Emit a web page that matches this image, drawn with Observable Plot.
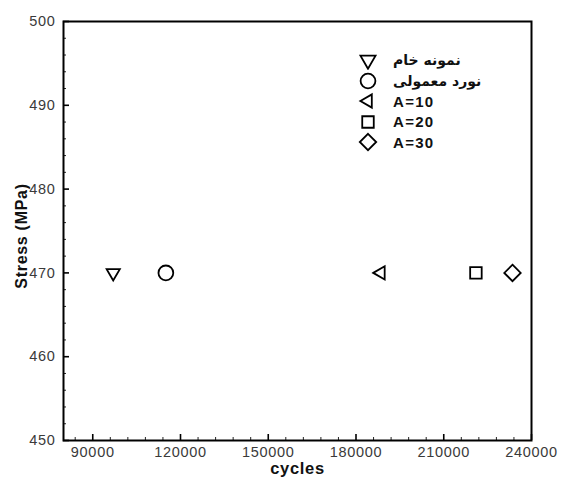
<!DOCTYPE html>
<html>
<head>
<meta charset="utf-8">
<script src="https://cdn.jsdelivr.net/npm/d3@7"></script>
<script src="https://cdn.jsdelivr.net/npm/@observablehq/plot@0.6"></script>
<style>
  html, body { margin: 0; padding: 0; background: #fff; }
  #wrap { position: relative; width: 561px; height: 479px; font-family: "Liberation Sans", Arial, "DejaVu Sans", sans-serif; }
  #legend { position: absolute; left: 356px; top: 50px; font-weight: bold; font-size: 15px; color: #111; }
  #legend .row { display: flex; align-items: center; height: 20.5px; }
  #legend svg { width: 24px; height: 20px; margin-right: 13px; flex: none; }
  #legend span { unicode-bidi: isolate; white-space: nowrap; }
  #legend span.latin { letter-spacing: 1.3px; }
  #legend span.fa { font-size: 14px; font-family: "DejaVu Sans", sans-serif; }
</style>
</head>
<body>
<div id="wrap"></div>
<script>
// ---- data ----
const series = ["نمونه خام", "نورد معمولی", "A=10", "A=20", "A=30"];
const cycles = [97000, 115000, 188500, 221000, 233500];
const stress = [470, 470, 470, 470, 470];
const symbols = ["triangle", "circle", "triangle", "square", "diamond2"];
const rotations = [180, 0, -90, 0, 0];
const radii = [4.9, 7.4, 4.9, 6.5, 7.4];
const xMajorTicks = [90000, 120000, 150000, 180000, 210000, 240000];
const xMinorTicks = d3.range(84000, 240001, 6000).filter(v => !xMajorTicks.includes(v));
const yMajorTicks = [450, 460, 470, 480, 490, 500];
const yMinorTicks = d3.range(450, 500.1, 2).filter(v => !yMajorTicks.includes(v));
const xLabel = "cycles";
const yLabel = "Stress (MPa)";

const data = series.map((s, i) => ({
  series: s, x: cycles[i], y: stress[i], symbol: symbols[i], rotate: rotations[i], r: radii[i]
}));

const blank = () => "";
const chart = Plot.plot({
  width: 561,
  height: 479,
  marginLeft: 63,
  marginRight: 30,
  marginTop: 21,
  marginBottom: 39,
  style: { fontFamily: '"Liberation Sans", Arial, sans-serif', background: "white", letterSpacing: "0.7px" },
  x: { domain: [80000, 240000] },
  y: { domain: [450, 500] },
  r: { type: "identity" },
  symbol: { type: "identity" },
  marks: [
    // minor ticks (inward)
    Plot.axisX({ ticks: xMinorTicks, tickSize: 3, dy: -3, tickFormat: blank, label: null, stroke: "#222", strokeWidth: 1 }),
    Plot.axisY({ ticks: yMinorTicks, tickSize: 3, dx: 3, tickFormat: blank, label: null, stroke: "#222", strokeWidth: 1 }),
    // major ticks (inward)
    Plot.axisX({ ticks: xMajorTicks, tickSize: 6, dy: -6, tickFormat: blank, label: null, stroke: "#000", strokeWidth: 1.6 }),
    Plot.axisY({ ticks: yMajorTicks, tickSize: 6, dx: 6, tickFormat: blank, label: null, stroke: "#000", strokeWidth: 1.6 }),
    // tick labels
    Plot.axisX({ ticks: xMajorTicks, tickSize: 0, tickPadding: 6, tickFormat: d => String(d), label: null, fontSize: 14.5, fill: "#3a3a3a" }),
    Plot.axisY({ ticks: yMajorTicks, tickSize: 0, tickPadding: 8, tickFormat: d => String(d), label: null, fontSize: 14.5, fill: "#3a3a3a" }),
    // axis titles
    Plot.text([xLabel], { frameAnchor: "bottom", dy: 28, lineAnchor: "middle", textAnchor: "middle", text: d => d, fontSize: 16.5, fontWeight: "bold", fill: "#111" }),
    Plot.text([yLabel], { frameAnchor: "left", dx: -42, dy: 5, rotate: -90, lineAnchor: "middle", textAnchor: "middle", text: d => d, fontSize: 16, fontWeight: "bold", fill: "#111" }),
    // frame
    Plot.frame({ stroke: "#000", strokeWidth: 2 }),
    // data points
    Plot.dot(data, { x: "x", y: "y", symbol: "symbol", rotate: "rotate", r: "r", stroke: "#000", strokeWidth: 1.8, fill: "white" })
  ]
});

const wrap = document.getElementById("wrap");
wrap.appendChild(chart);

// legend inside the plot frame
const legend = document.createElement("div");
legend.id = "legend";
const symbolMap = { triangle: d3.symbolTriangle, circle: d3.symbolCircle, square: d3.symbolSquare, diamond2: d3.symbolDiamond2 };
series.forEach((s, i) => {
  const row = document.createElement("div");
  row.className = "row";
  const svg = d3.create("svg").attr("viewBox", "-12 -10 24 20");
  const r = i === 0 ? 5.6 : radii[i];
  svg.append("path")
    .attr("d", d3.symbol(symbolMap[symbols[i]], Math.PI * r * r)())
    .attr("transform", `rotate(${rotations[i]})`)
    .attr("fill", "white").attr("stroke", "#000").attr("stroke-width", 1.8);
  row.appendChild(svg.node());
  const label = document.createElement("span");
  label.setAttribute("dir", "auto");
  label.className = /[A-Za-z]/.test(s) ? "latin" : "fa";
  label.textContent = s;
  row.appendChild(label);
  legend.appendChild(row);
});
wrap.appendChild(legend);
</script>
</body>
</html>
